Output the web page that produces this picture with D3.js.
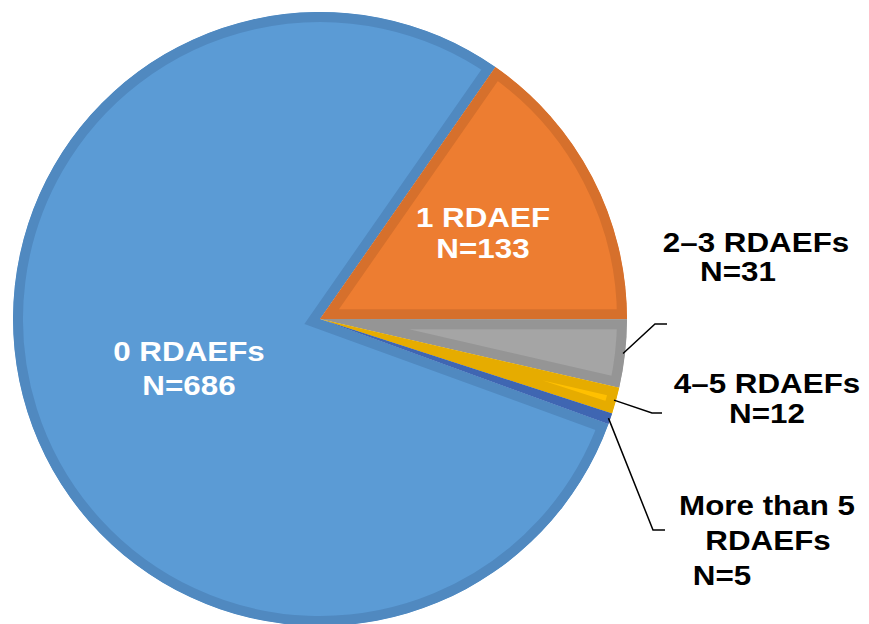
<!DOCTYPE html>
<html>
<head>
<meta charset="utf-8">
<script src="https://cdn.jsdelivr.net/npm/d3@7"></script>
<style>
  html, body { margin: 0; padding: 0; background: #fff; }
  svg { display: block; }
</style>
</head>
<body>
<svg id="chart" width="869" height="624"></svg>
<script>
// ---- data ----
const categories = ["0 RDAEFs", "1 RDAEF", "2–3 RDAEFs", "4–5 RDAEFs", "More than 5 RDAEFs"];
const counts = [686, 133, 31, 12, 5];
const labelLines = [
  ["0 RDAEFs", "N=686"],
  ["1 RDAEF", "N=133"],
  ["2–3 RDAEFs", "N=31"],
  ["4–5 RDAEFs", "N=12"],
  ["More than 5", "RDAEFs", "N=5"]
];
const fills   = ["#5B9BD5", "#ED7D31", "#A5A5A5", "#FFC000", "#4472C4"];
const borders = ["#5089C0", "#D6702C", "#959595", "#E6AC00", "#3F66B2"];

// ---- layout ----
const cx = 320, cy = 319, R = 307;
const firstSliceAngle = 110; // degrees, like Excel
const svg = d3.select("#chart");
const g = svg.append("g").attr("transform", `translate(${cx},${cy})`);

const pie = d3.pie().sort(null).value(d => d)
  .startAngle(firstSliceAngle * Math.PI / 180)
  .endAngle(firstSliceAngle * Math.PI / 180 + 2 * Math.PI);
const arcs = pie(counts);
const arc = d3.arc().innerRadius(0).outerRadius(R);

const defs = svg.append("defs");
arcs.forEach((a, i) => {
  defs.append("clipPath").attr("id", "clip" + i)
    .append("path").attr("d", arc(a));
});

g.selectAll("path.slice").data(arcs).join("path")
  .attr("class", "slice")
  .attr("d", arc)
  .attr("fill", (d, i) => fills[i])
  .attr("stroke", (d, i) => borders[i])
  .attr("stroke-width", 20)
  .attr("stroke-linejoin", "miter")
  .attr("stroke-miterlimit", 100)
  .attr("clip-path", (d, i) => `url(#clip${i})`);

// ---- labels ----
const font = "'Liberation Sans', Arial, sans-serif";
const labelPos = [
  { x: 189, y: [361, 395], color: "#fff" },
  { x: 483, y: [227, 258], color: "#fff" },
  { x: 756, y: [252, 281], color: "#000", dx: [0, -18] },
  { x: 767, y: [393, 423], color: "#000" },
  { x: 767, y: [515, 550, 585], color: "#000", dx: [0, 1, -45] }
];
labelLines.forEach((lines, i) => {
  const p = labelPos[i];
  lines.forEach((t, j) => {
    const x = p.x + (p.dx ? p.dx[j] : 0);
    svg.append("text")
      .attr("transform", `translate(${x},${p.y[j]}) scale(1.12,1)`)
      .attr("text-anchor", "middle")
      .attr("font-family", font)
      .attr("font-weight", "bold")
      .attr("font-size", 28)
      .attr("fill", p.color)
      .text(t);
  });
});

// ---- leader lines for the small slices ----
const elbows = [null, null, [[655, 324], [667, 324]], [[652, 413], [662, 413]], [[653, 530], [665, 530]]];
arcs.forEach((a, i) => {
  if (!elbows[i]) return;
  const mid = (a.startAngle + a.endAngle) / 2;
  const sx = cx + (R - 2) * Math.sin(mid), sy = cy - (R - 2) * Math.cos(mid);
  const pts = [[sx, sy]].concat(elbows[i]);
  svg.append("path")
    .attr("d", d3.line()(pts))
    .attr("fill", "none")
    .attr("stroke", "#000")
    .attr("stroke-width", 1.5);
});
</script>
</body>
</html>
